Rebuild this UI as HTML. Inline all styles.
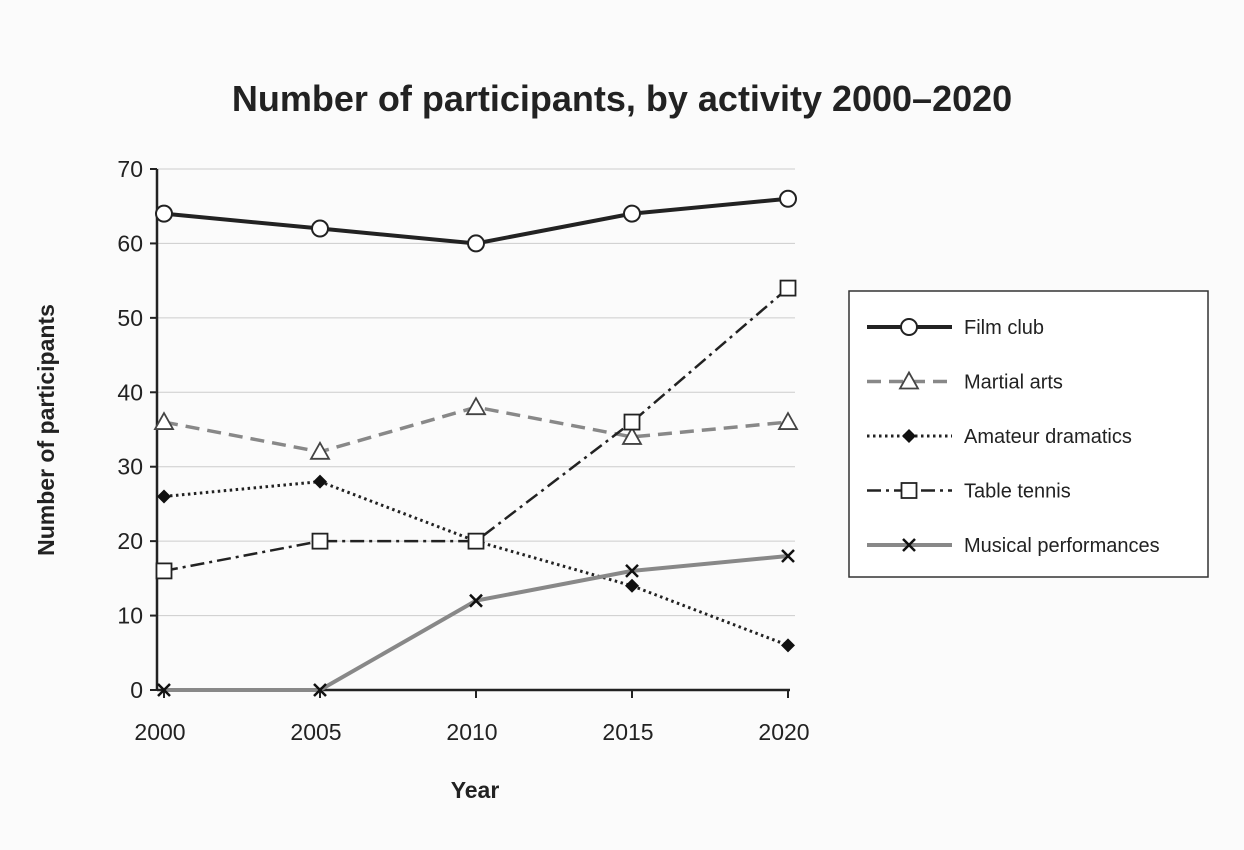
<!DOCTYPE html>
<html><head><meta charset="utf-8"><style>
body{margin:0;background:#fbfbfb;}
svg{display:block;font-family:"Liberation Sans",Arial,sans-serif;}
</style></head><body>
<svg id="chart" width="1244" height="850">
<rect x="0" y="0" width="1244" height="850" fill="#fbfbfb"/>
<text x="622" y="111" text-anchor="middle" font-size="36" font-weight="bold" fill="#222">Number of participants, by activity 2000–2020</text>
<g id="grid"></g>
<g id="series"></g>
<text x="475" y="798" text-anchor="middle" font-size="23" font-weight="bold" fill="#222">Year</text>
<text transform="translate(54,430) rotate(-90)" text-anchor="middle" font-size="23" font-weight="bold" fill="#222">Number of participants</text>
<g>
<rect x="849" y="291" width="359" height="286" fill="#fff" stroke="#333" stroke-width="1.5"/>
<g id="legend"></g>
</g>
</svg>
<script>
const years=[2000,2005,2010,2015,2020];
const yTicks=[0,10,20,30,40,50,60,70];
const filmClub=[64,62,60,64,66];
const martialArts=[36,32,38,34,36];
const amateurDramatics=[26,28,20,14,6];
const tableTennis=[16,20,20,36,54];
const musicalPerformances=[0,0,12,16,18];
const names=["Film club","Martial arts","Amateur dramatics","Table tennis","Musical performances"];

const NS="http://www.w3.org/2000/svg";
const X=v=>164+(v-2000)*(624/20);
const Y=v=>690-v*(521/70);
function mk(tag,attrs,parent){const e=document.createElementNS(NS,tag);for(const k in attrs)e.setAttribute(k,attrs[k]);parent.appendChild(e);return e;}
const grid=document.getElementById('grid');
yTicks.forEach(t=>{
  if(t>0){const l=mk('line',{x1:157,x2:795,y1:Y(t),y2:Y(t),stroke:'#ccc','stroke-width':1},grid);
  
  }
  const tk=mk('line',{x1:150,x2:157,y1:Y(t),y2:Y(t),stroke:'#222','stroke-width':2},grid);
  
  
  const tx=mk('text',{x:143,y:Y(t)+8,'text-anchor':'end','font-size':23,fill:'#222'},grid);
  tx.textContent=t;
  
  
});
const ya=mk('line',{x1:157,x2:157,y1:Y(70),y2:690,stroke:'#222','stroke-width':2.5},grid);


const xa=mk('line',{x1:157,x2:790,y1:690,y2:690,stroke:'#222','stroke-width':2.5},grid);


years.forEach(y=>{
  const tk=mk('line',{x1:X(y),x2:X(y),y1:690,y2:698,stroke:'#222','stroke-width':2},grid);
  
  
  const tx=mk('text',{x:X(y)-4,y:740,'text-anchor':'middle','font-size':23,fill:'#222'},grid);
  tx.textContent=y;
  
  
});
const styles=[
 {stroke:'#222',w:4,dash:'',marker:'circle'},
 {stroke:'#888',w:3.5,dash:'14 8',marker:'triangle'},
 {stroke:'#222',w:3,dash:'2.5 3.5',marker:'diamond'},
 {stroke:'#222',w:2.5,dash:'14 5 3 5',marker:'square'},
 {stroke:'#888',w:4,dash:'',marker:'x'}
];
const data=[filmClub,martialArts,amateurDramatics,tableTennis,musicalPerformances];
function marker(type,x,y,g){
  let e;
  if(type==='circle')e=mk('circle',{cx:x,cy:y,r:8,fill:'#fff',stroke:'#222','stroke-width':2},g);
  else if(type==='triangle')e=mk('polygon',{points:`${x},${y-9} ${x-9},${y+7} ${x+9},${y+7}`,fill:'#fff',stroke:'#444','stroke-width':1.8},g);
  else if(type==='diamond')e=mk('polygon',{points:`${x},${y-7} ${x+7},${y} ${x},${y+7} ${x-7},${y}`,fill:'#111'},g);
  else if(type==='square')e=mk('rect',{x:x-7.5,y:y-7.5,width:15,height:15,fill:'#fff',stroke:'#222','stroke-width':1.8},g);
  else e=mk('path',{d:`M${x-6},${y-6}L${x+6},${y+6}M${x+6},${y-6}L${x-6},${y+6}`,stroke:'#111','stroke-width':2.5},g);
  return e;
}
const sg=document.getElementById('series');
data.forEach((vals,i)=>{
  const s=styles[i];
  const g=mk('g',{},sg);
  
  
  const pts=vals.map((v,j)=>X(years[j])+','+Y(v)).join(' ');
  const pl=mk('polyline',{points:pts,fill:'none',stroke:s.stroke,'stroke-width':s.w,'stroke-dasharray':s.dash},g);
  
  
  vals.forEach((v,j)=>{const m=marker(s.marker,X(years[j]),Y(v),g);
    
    });
});
const lg=document.getElementById('legend');
names.forEach((n,i)=>{
  const s=styles[i];const y=327+i*54.5;
  const g=mk('g',{},lg);
  
  
  mk('line',{x1:867,x2:952,y1:y,y2:y,stroke:s.stroke,'stroke-width':s.w,'stroke-dasharray':s.dash},g);
  marker(s.marker,909,y,g);
  const t=mk('text',{x:964,y:y+7,'font-size':20,fill:'#222'},g);
  t.textContent=n;
});
</script>
</body></html>
